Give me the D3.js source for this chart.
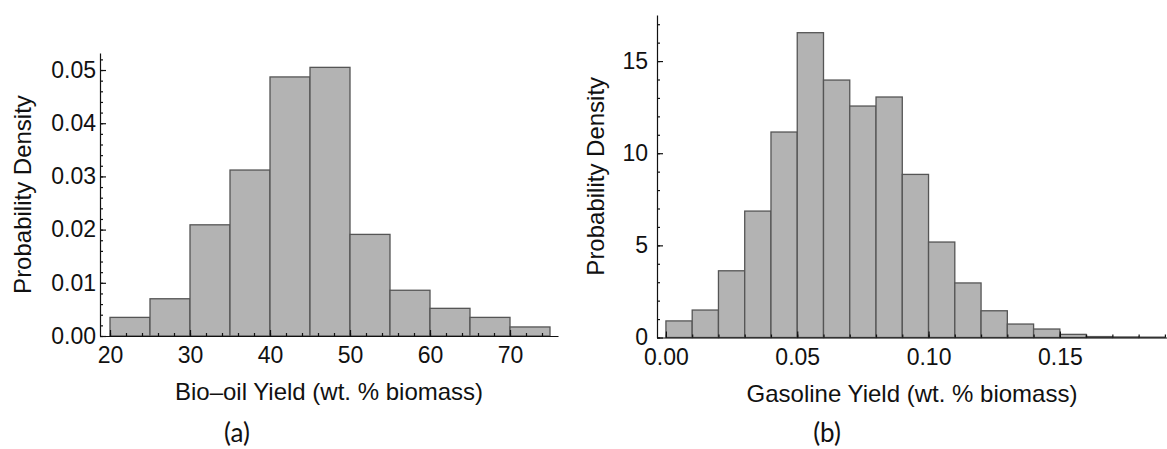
<!DOCTYPE html>
<html>
<head>
<meta charset="utf-8">
<script src="https://cdn.jsdelivr.net/npm/d3@7"></script>
<style>
  body { margin: 0; background: #fff; }
  svg text { font-family: "Liberation Sans", Arial, sans-serif; fill: #111; }
  .caption { font-family: Lato, "Open Sans", sans-serif; }
</style>
</head>
<body>
<svg id="chart" width="1167" height="449"></svg>
<script>
// Panel (a): bio-oil yield histogram, bins of 5 starting at 20
const binStartA = 20;
const binWidthA = 5;
const densityA = [0.0035, 0.0070, 0.0209, 0.0312, 0.0487, 0.0505, 0.0191, 0.0086, 0.0052, 0.0035, 0.0017];
const xTicksA = [20, 30, 40, 50, 60, 70];
const yTicksA = [0, 0.01, 0.02, 0.03, 0.04, 0.05];

// Panel (b): gasoline yield histogram, bins of 0.01 starting at 0
const binStartB = 0;
const binWidthB = 0.01;
const densityB = [0.90, 1.49, 3.62, 6.86, 11.15, 16.54, 13.97, 12.56, 13.05, 8.85, 5.18, 2.96, 1.45, 0.73, 0.46, 0.17, 0.05, 0.03, 0.02];
const xTicksB = [0, 0.05, 0.10, 0.15];
const yTicksB = [0, 5, 10, 15];

const svg = d3.select('#chart');

function drawPanel(opt) {
  const g = svg.append('g');
  const x = d3.scaleLinear().domain(opt.xDomain).range(opt.xRange);
  const y = d3.scaleLinear().domain(opt.yDomain).range(opt.yRange);

  const bins = opt.density.map((d, i) => ({
    x0: opt.binStart + i * opt.binWidth,
    x1: opt.binStart + (i + 1) * opt.binWidth,
    v: d
  }));

  g.append('g')
    .selectAll('rect')
    .data(bins)
    .join('rect')
    .attr('x', d => x(d.x0))
    .attr('width', d => x(d.x1) - x(d.x0))
    .attr('y', d => y(d.v))
    .attr('height', d => y(0) - y(d.v))
    .attr('fill', '#b3b3b3')
    .attr('stroke', '#555')
    .attr('stroke-width', 1.3);

  const y0 = opt.yRange[0];
  const x0 = opt.xRange[0];

  // minor ticks first (no labels)
  g.append('g')
    .attr('transform', `translate(0,${y0})`)
    .call(d3.axisBottom(x).tickValues(opt.xMinor).tickSizeInner(-3).tickSizeOuter(0).tickFormat(''))
    .call(a => a.select('.domain').remove());
  g.append('g')
    .attr('transform', `translate(${x0},0)`)
    .call(d3.axisLeft(y).tickValues(opt.yMinor).tickSizeInner(-3).tickSizeOuter(0).tickFormat(''))
    .call(a => a.select('.domain').remove());

  // major axes
  const xa = g.append('g')
    .attr('transform', `translate(0,${y0})`)
    .call(d3.axisBottom(x).tickValues(opt.xTicks).tickSizeInner(-6).tickSizeOuter(0)
      .tickPadding(11).tickFormat(opt.xFormat));
  const ya = g.append('g')
    .attr('transform', `translate(${x0},0)`)
    .call(d3.axisLeft(y).tickValues(opt.yTicks).tickSizeInner(-6).tickSizeOuter(0)
      .tickPadding(opt.yPad).tickFormat(opt.yFormat));

  [xa, ya].forEach(a => {
    a.selectAll('text').attr('font-size', 23).attr('font-family', null);
    a.select('.domain').attr('stroke', '#111').attr('stroke-width', 1.2);
    a.selectAll('line').attr('stroke', '#111');
  });
  g.selectAll('.tick line').attr('stroke', '#111').attr('stroke-width', 1.2);

  g.append('text')
    .attr('x', (opt.xRange[0] + opt.xRange[1]) / 2)
    .attr('y', opt.xLabelY)
    .attr('text-anchor', 'middle')
    .attr('font-size', 24)
    .text(opt.xLabel);

  g.append('text')
    .attr('transform', `translate(${opt.yLabelX},${(opt.yRange[0] + opt.yRange[1]) / 2}) rotate(-90)`)
    .attr('text-anchor', 'middle')
    .attr('font-size', 24)
    .text('Probability Density');

  g.append('text')
    .attr('class', 'caption')
    .attr('x', opt.captionX)
    .attr('y', 442)
    .attr('text-anchor', 'middle')
    .attr('font-size', 26)
    .text(opt.caption);
}

drawPanel({
  binStart: binStartA, binWidth: binWidthA, density: densityA,
  xDomain: [18.75, 76], xRange: [100, 558],
  yDomain: [0, 0.0532], yRange: [336, 53],
  xTicks: xTicksA, yTicks: yTicksA,
  xMinor: d3.range(20, 76, 2), yMinor: d3.range(0, 0.053, 0.002),
  xFormat: d3.format('d'), yFormat: d3.format('.2f'),
  yPad: 4,
  xLabel: 'Bio\u2013oil Yield (wt. % biomass)', xLabelY: 400, yLabelX: 31,
  caption: '(a)', captionX: 237
});

drawPanel({
  binStart: binStartB, binWidth: binWidthB, density: densityB,
  xDomain: [-0.0034, 0.1908], xRange: [657, 1167],
  yDomain: [0, 17.5], yRange: [337.5, 15],
  xTicks: xTicksB, yTicks: yTicksB,
  xMinor: d3.range(0, 0.195, 0.01), yMinor: d3.range(0, 17.5, 1),
  xFormat: d3.format('.2f'), yFormat: d3.format('d'),
  yPad: 9,
  xLabel: 'Gasoline Yield (wt. % biomass)', xLabelY: 402, yLabelX: 604,
  caption: '(b)', captionX: 827
});
</script>
</body>
</html>
